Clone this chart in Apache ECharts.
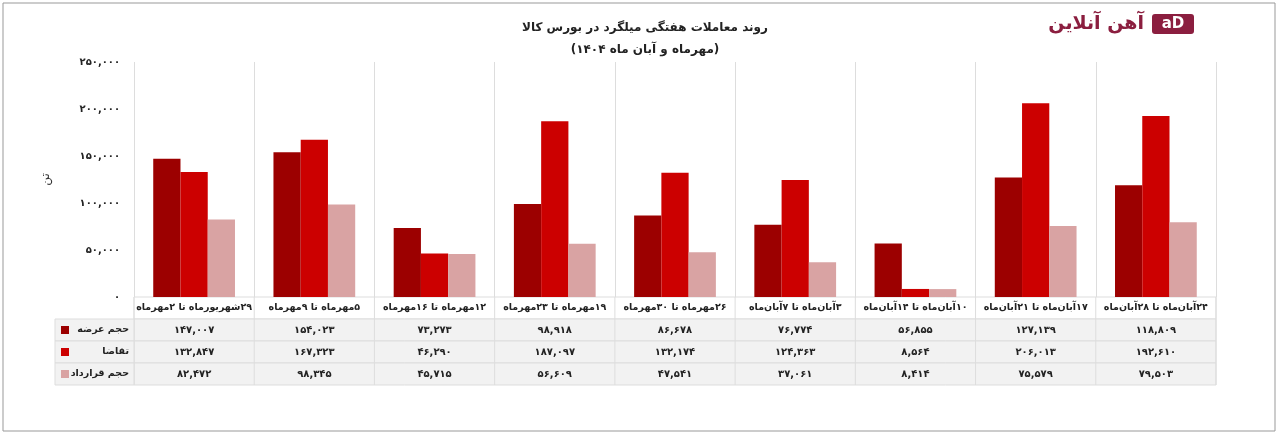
<!DOCTYPE html>
<html><head><meta charset="utf-8">
<script src="https://cdn.jsdelivr.net/npm/echarts@6/dist/echarts.min.js"></script>
<style>html,body{margin:0;background:#fff}#c{width:1280px;height:436px}#c canvas{direction:rtl}</style>
</head><body><div id="c"></div>
<script>
var categories = ['۲۹شهریورماه تا ۲مهرماه','۵مهرماه تا ۹مهرماه','۱۲مهرماه تا ۱۶مهرماه','۱۹مهرماه تا ۲۳مهرماه','۲۶مهرماه تا ۳۰مهرماه','۳آبان‌ماه تا ۷آبان‌ماه','۱۰آبان‌ماه تا ۱۴آبان‌ماه','۱۷آبان‌ماه تا ۲۱آبان‌ماه','۲۴آبان‌ماه تا ۲۸آبان‌ماه'];
var seriesNames = ['حجم عرضه','تقاضا','حجم قرارداد'];
var offerVals = [147007,154023,73273,98918,86678,76774,56855,127139,118809];
var demandVals = [132847,167323,46290,187097,132174,124363,8564,206013,192610];
var contractVals = [82472,98345,45715,56609,47541,37061,8414,75579,79503];
var colors = ['#9c0000','#cc0000','#d9a3a3'];

var font = '"DejaVu Sans", "Noto Sans", sans-serif';
function fa(n){
  return String(n).replace(/\B(?=(\d{3})+(?!\d))/g, ',').replace(/\d/g, function(d){ return '۰۱۲۳۴۵۶۷۸۹'[d]; });
}

var L = 134, R = 1216, T = 62, B = 297;
var colW = (R - L) / categories.length;
var rowH = 22;
var allVals = [offerVals, demandVals, contractVals];

var g = [];
g.push({type:'rect', shape:{x:3,y:3,width:1272,height:428}, style:{fill:'none',stroke:'#999',lineWidth:1}});
var tTop = B, rows = 4;
for (var r = 0; r < rows; r++) {
  g.push({type:'rect', shape:{x:L,y:tTop+r*rowH,width:R-L,height:rowH}, style:{fill: r==0 ? '#fff' : '#f2f2f2', stroke:'#ddd', lineWidth:1}});
}
for (var i = 0; i <= categories.length; i++) {
  g.push({type:'line', shape:{x1:L+i*colW,y1:tTop,x2:L+i*colW,y2:tTop+rows*rowH}, style:{stroke:'#ddd'}});
}
for (var s = 0; s < 3; s++) {
  g.push({type:'rect', shape:{x:55,y:tTop+(s+1)*rowH,width:L-55,height:rowH}, style:{fill:'#f2f2f2',stroke:'#ddd'}});
  g.push({type:'rect', shape:{x:61,y:tTop+(s+1)*rowH+7,width:8,height:8}, style:{fill:colors[s]}});
  g.push({type:'text', x:L-5, y:tTop+(s+1)*rowH+rowH/2, style:{text:seriesNames[s],align:'right',verticalAlign:'middle',font:'bold 9.5px '+font,fill:'#222'}});
}
for (var i = 0; i < categories.length; i++) {
  var cx = L + (i+0.5)*colW;
  g.push({type:'text', x:cx, y:tTop+rowH/2, style:{text:categories[i],align:'center',verticalAlign:'middle',font:'bold 9.5px '+font,fill:'#222'}});
  for (var s = 0; s < 3; s++) {
    g.push({type:'text', x:cx, y:tTop+(s+1)*rowH+rowH/2, style:{text:fa(allVals[s][i]),align:'center',verticalAlign:'middle',font:'bold 10px '+font,fill:'#222'}});
  }
}
// logo
g.push({type:'rect', shape:{x:1152,y:14,width:42,height:20,r:3}, style:{fill:'#8b1e3f'}});
g.push({type:'text', x:1173, y:24, style:{text:'aD',align:'center',verticalAlign:'middle',font:'bold 15px '+font,fill:'#fff'}});
g.push({type:'text', x:1144, y:24, style:{text:'آهن آنلاین',align:'right',verticalAlign:'middle',font:'bold 19px '+font,fill:'#8b1e3f'}});

var chart = echarts.init(document.getElementById('c'));
chart.setOption({
  animation:false,
  title:{text:'روند معاملات هفتگی میلگرد در بورس کالا\n(مهرماه و آبان ماه ۱۴۰۴)', left:640, top:12, textAlign:'center',
    textStyle:{fontFamily:font,fontSize:12,fontWeight:'bold',color:'#222',lineHeight:22}},
  grid:{left:L,right:1280-R,top:T,bottom:436-B},
  xAxis:{type:'category',data:categories,axisLabel:{show:false,interval:0},axisTick:{show:false,interval:0},
    axisLine:{show:false},splitLine:{show:true,interval:0,lineStyle:{color:'#ddd'}}},
  yAxis:{type:'value',min:0,max:250000,interval:50000,name:'تن',nameLocation:'middle',nameGap:82,nameRotate:90,
    nameTextStyle:{fontFamily:font,fontSize:12,color:'#333'},
    axisLabel:{formatter:fa,fontFamily:font,fontSize:10,fontWeight:'bold',color:'#222',margin:14},
    splitLine:{show:false},axisLine:{show:false},axisTick:{show:false}},
  series:[0,1,2].map(function(s){
    return {name:seriesNames[s],type:'bar',data:allVals[s],barGap:0,barCategoryGap:'32%',itemStyle:{color:colors[s]}};
  }),
  graphic:g
});
</script></body></html>
